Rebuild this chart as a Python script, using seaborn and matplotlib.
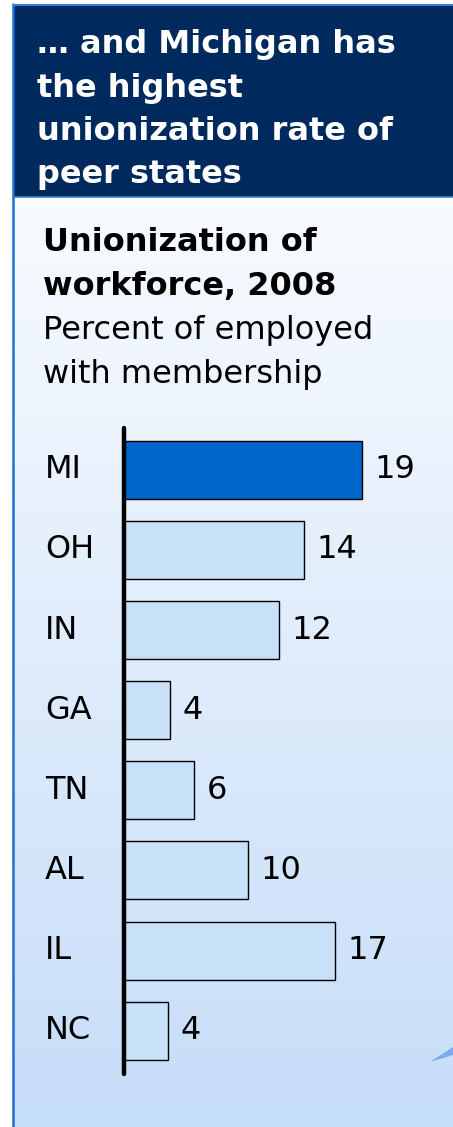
import numpy as np
import pandas as pd
import seaborn as sns
import matplotlib.pyplot as plt
import matplotlib.transforms as mtransforms
from matplotlib.patches import Rectangle, Polygon

# data (bar lengths estimated, labels as printed)
states = ['MI', 'OH', 'IN', 'GA', 'TN', 'AL', 'IL', 'NC']
union_pct = [19.0, 14.4, 12.4, 3.7, 5.6, 9.9, 16.8, 3.5]
value_labels = ['19', '14', '12', '4', '6', '10', '17', '4']
bar_colors = ['#0066CC', '#C8E0F8', '#C8E0F8', '#C8E0F8', '#C8E0F8', '#C8E0F8', '#C8E0F8', '#C8E0F8']

header_lines = ['\u2026 and Michigan has', 'the highest', 'unionization rate of', 'peer states']
title_lines = ['Unionization of', 'workforce, 2008']
unit_lines = ['Percent of employed', 'with membership']

sns.set_theme(style='white')
plt.rcParams['font.family'] = ['DejaVu Sans']
FS = 23

W, H = 453, 1127
fig = plt.figure(figsize=(W / 100, H / 100), dpi=100)
fig.patch.set_facecolor('white')

# background: gradient panel, navy header, blue border
bg = fig.add_axes([0, 0, 1, 1])
bg.set_xlim(0, W)
bg.set_ylim(H, 0)
bg.axis('off')
grad = np.linspace(0, 1, 256).reshape(-1, 1)
top_c = np.array([0xF8, 0xFB, 0xFF]) / 255
bot_c = np.array([0xC6, 0xDD, 0xF8]) / 255
img = top_c + grad[..., None] * (bot_c - top_c)
bg.imshow(img, extent=[13, W, H, 197], aspect='auto', zorder=0)
bg.add_patch(Rectangle((13, 5), W - 13, 192, facecolor='#00295E', edgecolor='none', zorder=1))
bg.plot([13, W], [197, 197], color='#3A7FD5', lw=1.2, zorder=2)
bg.plot([12.5, 12.5], [4, H], color='#1F6FD6', lw=1.8, zorder=2)
bg.plot([12.5, W], [4.5, 4.5], color='#3A80D8', lw=1.5, zorder=2)
bg.add_patch(Polygon([[430, 1062], [453, 1047], [453, 1055]], closed=True,
                     facecolor='#7FA8F0', edgecolor='none', zorder=1))

# header and titles, one line each at its baseline
for i, line in enumerate(header_lines):
    bg.text(37, 53 + i * 43.5, line, color='white', fontsize=FS, fontweight='bold',
            va='baseline', ha='left', zorder=3)
for i, line in enumerate(title_lines):
    bg.text(43, 251 + i * 44, line, color='black', fontsize=FS, fontweight='bold',
            va='baseline', ha='left', zorder=3)
for i, line in enumerate(unit_lines):
    bg.text(43, 339 + i * 44, line, color='black', fontsize=FS,
            va='baseline', ha='left', zorder=3)

# bar chart axes
ax = fig.add_axes([124 / W, 1 - 1074 / H, (W - 124) / W, 646 / H])
ax.patch.set_alpha(0)
df = pd.DataFrame({'state': states, 'pct': union_pct})
sns.barplot(data=df, x='pct', y='state', hue='state', palette=bar_colors, legend=False,
            edgecolor='black', linewidth=1.0, width=0.724, saturation=1, ax=ax)
ax.set_xlim(0, (W - 124) / 12.53)
ax.set_ylim(7.539, -0.520)
ax.set_xlabel('')
ax.set_ylabel('')
ax.set_xticks([])
ax.tick_params(left=False, labelleft=False)
for s in ['top', 'right', 'bottom']:
    ax.spines[s].set_visible(False)
ax.spines['left'].set_linewidth(3.2)
ax.spines['left'].set_color('black')
ax.spines['left'].set_capstyle('round')
ax.spines['left'].set_zorder(5)

# seaborn with hue makes one container per state
for c, lab in zip(ax.containers, value_labels):
    ax.bar_label(c, labels=[lab], padding=9, fontsize=FS, color='black')

trans = mtransforms.blended_transform_factory(fig.transFigure, ax.transData)
for i, s in enumerate(states):
    ax.text(45 / W, i, s, transform=trans, fontsize=FS, va='center', ha='left', color='black')

fig.savefig('out.png', dpi=100)
